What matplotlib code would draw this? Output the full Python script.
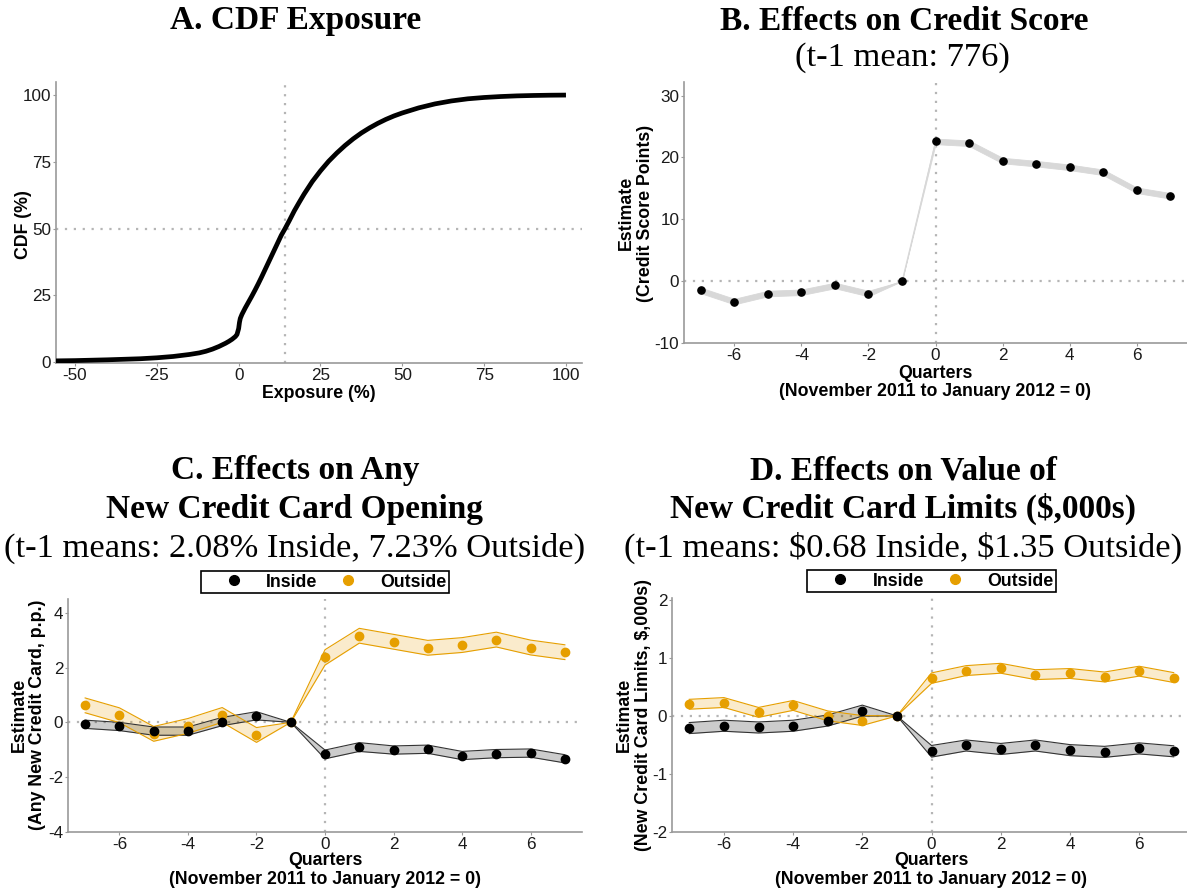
import matplotlib
matplotlib.use("Agg")
import matplotlib.pyplot as plt
from matplotlib.lines import Line2D
import numpy as np

# ---------------- data ----------------
exposure = [-55.8, -50, -45, -40, -35, -30, -25, -20, -15, -12, -10, -8, -6, -4, -3, -2, -1, -0.5,
            0, 0.25, 0.5, 1, 1.5, 2, 3, 4, 5, 6, 7, 8, 9, 10, 11, 12, 13, 14.2, 15.5, 17, 18.5,
            20, 22.5, 25, 27.5, 30, 32.5, 35, 37.5, 40, 42.5, 45, 47.5, 50, 55, 60, 65, 70,
            75, 80, 85, 90, 95, 100]
cdf_pct = [0.4, 0.5, 0.65, 0.8, 1.0, 1.2, 1.55, 2.05, 2.8, 3.4, 4.0, 4.8, 5.8, 7.0, 7.7, 8.5, 9.5, 10.3,
           12.5, 14.8, 16.3, 17.8, 19.0, 20.2, 22.4, 24.6, 26.9, 29.3, 31.8, 34.4, 37.0, 39.6, 42.2,
           44.8, 47.4, 50.0, 53.0, 56.6, 59.8, 62.9, 67.6, 71.6, 75.2, 78.3, 81.1, 83.6, 85.8, 87.7,
           89.4, 90.9, 92.2, 93.3, 95.2, 96.7, 97.8, 98.6, 99.1, 99.45, 99.7, 99.85, 99.95, 100.0]
median_exposure = 14.2

quarters = [-7, -6, -5, -4, -3, -2, -1, 0, 1, 2, 3, 4, 5, 6, 7]

b_est = [-1.5, -3.3, -2.0, -1.8, -0.7, -2.0, 0.0, 22.6, 22.3, 19.5, 19.0, 18.4, 17.6, 14.7, 13.8]
b_half = [0.45, 0.45, 0.45, 0.45, 0.45, 0.45, 0.0, 0.45, 0.45, 0.45, 0.45, 0.45, 0.45, 0.45, 0.45]

c_inside = [-0.07, -0.15, -0.32, -0.32, 0.03, 0.24, 0.0, -1.17, -0.90, -1.01, -0.98, -1.21, -1.14, -1.12, -1.33]
c_inside_half = [0.15, 0.15, 0.15, 0.15, 0.15, 0.15, 0.0, 0.16, 0.16, 0.15, 0.15, 0.15, 0.15, 0.15, 0.15]
c_outside = [0.62, 0.26, -0.42, -0.13, 0.27, -0.46, 0.0, 2.37, 3.16, 2.94, 2.72, 2.82, 3.02, 2.73, 2.56]
c_outside_half = [0.27, 0.27, 0.27, 0.27, 0.27, 0.27, 0.0, 0.28, 0.27, 0.27, 0.27, 0.27, 0.27, 0.27, 0.27]

d_inside = [-0.21, -0.17, -0.20, -0.17, -0.08, 0.09, 0.0, -0.61, -0.51, -0.57, -0.51, -0.59, -0.62, -0.56, -0.61]
d_inside_half = [0.095, 0.095, 0.095, 0.095, 0.095, 0.095, 0.0, 0.1, 0.095, 0.095, 0.095, 0.095, 0.095, 0.095, 0.095]
d_outside = [0.20, 0.23, 0.06, 0.18, 0.00, -0.08, 0.0, 0.65, 0.78, 0.82, 0.71, 0.73, 0.67, 0.77, 0.66]
d_outside_half = [0.085, 0.085, 0.085, 0.085, 0.085, 0.085, 0.0, 0.09, 0.085, 0.085, 0.085, 0.085, 0.085, 0.085, 0.085]

a_xticks = [-50, -25, 0, 25, 50, 75, 100]
a_yticks = [0, 25, 50, 75, 100]
q_ticks = [-6, -4, -2, 0, 2, 4, 6]
b_yticks = [-10, 0, 10, 20, 30]
c_yticks = [-4, -2, 0, 2, 4]
d_yticks = [-2, -1, 0, 1, 2]

# ---------------- style ----------------
W, H = 1187, 896
SANS = ["Liberation Sans", "DejaVu Sans"]
SERIF = ["Liberation Serif", "DejaVu Serif"]
ORANGE = "#E69F00"
SPINE = "#9a9a9a"
REF = "#b5b5b5"
TICK_FS = 12.3
LAB_FS = 12.8
TITLE_FS = 24
SUB_FS = 24.8

plt.rcParams["font.family"] = SANS
plt.rcParams["axes.unicode_minus"] = False

fig = plt.figure(figsize=(W / 100, H / 100), dpi=100)
fig.patch.set_facecolor("white")


def px(x):
    return x / W


def py(y):
    return 1 - y / H


def make_axes(l, r, t, b):
    return fig.add_axes([px(l), py(b), (r - l) / W, (b - t) / H])


def style(ax):
    for s in ["top", "right"]:
        ax.spines[s].set_visible(False)
    for s in ["left", "bottom"]:
        ax.spines[s].set_color(SPINE)
        ax.spines[s].set_linewidth(1.2)
    ax.tick_params(axis="both", length=2.2, width=0.8, color=SPINE, pad=1.2,
                   labelsize=TICK_FS, labelcolor="#1a1a1a")
    ax.set_facecolor("white")


def ref_lines(ax, xv, yv):
    ax.axvline(xv, color=REF, lw=1.6, ls=(0, (1, 3)), zorder=1)
    ax.axhline(yv, color=REF, lw=1.6, ls=(0, (1, 3)), zorder=1)


def title(x, y, s, bold=True):
    fig.text(px(x), py(y), s, ha="center", va="baseline", family=SERIF,
             fontsize=TITLE_FS if bold else SUB_FS,
             fontweight="bold" if bold else "normal", color="black")


def label(x, y, s, rot=0):
    fig.text(px(x), py(y), s, ha="center", va="center", rotation=rot,
             fontsize=LAB_FS, fontweight="bold", color="black")


# ---------------- Panel A ----------------
axA = make_axes(56, 582, 82, 363)
style(axA)
ref_lines(axA, median_exposure, 50)
axA.plot(exposure, cdf_pct, color="black", lw=3.4, solid_capstyle="butt",
         solid_joinstyle="round", zorder=3)
axA.set_xlim(-55.8, 104.9)
axA.set_ylim(-0.4, 104.9)
axA.set_xticks(a_xticks)
axA.set_yticks(a_yticks)
title(296, 29.5, "A. CDF Exposure")
label(23, 225, "CDF (%)", rot=90)
label(319, 393, "Exposure (%)")

# ---------------- Panel B ----------------
axB = make_axes(684, 1187, 82, 343)
style(axB)
ref_lines(axB, 0, 0)
be = np.array(b_est)
bh = np.array(b_half)
axB.fill_between(quarters, be - bh, be + bh, color="#d8d8d8", lw=0.6, edgecolor="#d8d8d8", zorder=2)
axB.plot(quarters, b_est, color="#d8d8d8", lw=0.6, zorder=2)
axB.plot(quarters, b_est, "o", color="black", ms=5.2, zorder=4)
axB.set_xlim(-7.5, 7.5)
axB.set_ylim(-10, 32.2)
axB.set_xticks(q_ticks)
axB.set_yticks(b_yticks)
title(904, 29.5, "B. Effects on Credit Score")
title(902, 66, "(t-1 mean: 776)", bold=False)
label(626, 213, "Estimate", rot=90)
label(646, 213, "(Credit Score Points)", rot=90)
label(935, 373, "Quarters")
label(935, 391, "(November 2011 to January 2012 = 0)")


# ---------------- Panels C & D ----------------
def event_panel(ax, inside, inside_half, outside, outside_half, ylim, yticks):
    style(ax)
    ref_lines(ax, 0, 0)
    ins = np.array(inside)
    ih = np.array(inside_half)
    out = np.array(outside)
    oh = np.array(outside_half)
    ax.fill_between(quarters, ins - ih, ins + ih, color="black", alpha=0.2, lw=0, zorder=2)
    ax.plot(quarters, ins - ih, color="#333333", lw=0.8, zorder=2.5)
    ax.plot(quarters, ins + ih, color="#333333", lw=0.8, zorder=2.5)
    ax.fill_between(quarters, out - oh, out + oh, color=ORANGE, alpha=0.2, lw=0, zorder=2)
    ax.plot(quarters, out - oh, color=ORANGE, lw=0.8, zorder=2.5)
    ax.plot(quarters, out + oh, color=ORANGE, lw=0.8, zorder=2.5)
    ax.plot(quarters, outside, "o", color=ORANGE, ms=6, zorder=4)
    ax.plot(quarters, inside, "o", color="black", ms=6, zorder=5)
    ax.set_xlim(-7.5, 7.5)
    ax.set_ylim(*ylim)
    ax.set_xticks(q_ticks)
    ax.set_yticks(yticks)
    handles = [Line2D([], [], marker="o", color="black", ls="none", ms=7),
               Line2D([], [], marker="o", color=ORANGE, ls="none", ms=7)]
    cx = (ax.get_position().x0 + ax.get_position().x1) / 2
    top = ax.get_position().y1
    leg = ax.legend(handles, ["Inside", "Outside"], ncol=2, loc="lower center",
                    bbox_to_anchor=(cx, top + 6.3 / H), bbox_transform=fig.transFigure,
                    frameon=True, fancybox=False, borderaxespad=0, borderpad=0.12,
                    handlelength=3.45, handletextpad=0.1, columnspacing=0.0,
                    prop={"family": SANS, "weight": "bold", "size": LAB_FS})
    fr = leg.get_frame()
    fr.set_edgecolor("black")
    fr.set_linewidth(1.2)
    fr.set_facecolor("white")
    fr.set_alpha(1)


axC = make_axes(68, 582, 599, 832)
event_panel(axC, c_inside, c_inside_half, c_outside, c_outside_half, (-4, 4.5), c_yticks)
title(295, 479, "C. Effects on Any")
title(295, 518, "New Credit Card Opening")
title(295, 557, "(t-1 means: 2.08% Inside, 7.23% Outside)", bold=False)
label(19, 715, "Estimate", rot=90)
label(38, 715, "(Any New Credit Card, p.p.)", rot=90)
label(325, 860, "Quarters")
label(325, 879, "(November 2011 to January 2012 = 0)")

axD = make_axes(672, 1191, 598, 832)
event_panel(axD, d_inside, d_inside_half, d_outside, d_outside_half, (-2, 2.03), d_yticks)
title(903, 479, "D. Effects on Value of")
title(903, 518, "New Credit Card Limits (\\$,000s)")
title(903, 557, "(t-1 means: \\$0.68 Inside, \\$1.35 Outside)", bold=False)
label(624, 715, "Estimate", rot=90)
label(644, 715, "(New Credit Card Limits, \\$,000s)", rot=90)
label(931, 860, "Quarters")
label(931, 879, "(November 2011 to January 2012 = 0)")

fig.savefig("out.png", dpi=100, facecolor="white")
